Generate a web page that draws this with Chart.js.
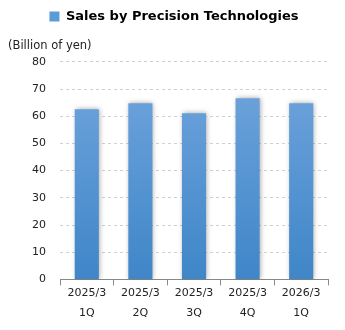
<!DOCTYPE html>
<html><head><meta charset="utf-8">
<script src="https://cdn.jsdelivr.net/npm/chart.js@4/dist/chart.umd.min.js"></script>
<style>html,body{margin:0;padding:0;background:#fff}#w{width:345px;height:330px}</style>
</head><body><div id="w"><canvas id="c"></canvas></div>
<script>
const categories = [['2025/3','1Q'],['2025/3','2Q'],['2025/3','3Q'],['2025/3','4Q'],['2026/3','1Q']];
const sales = [62.6, 64.8, 61.1, 66.6, 64.8];
const seriesName = 'Sales by Precision Technologies';
const unitLabel = '(Billion of yen)';
const yMax = 80, yStep = 10;
const FONT = "'DejaVu Sans', Verdana, sans-serif";

function grad(ctx){
  const ca = ctx.chart.chartArea;
  if(!ca) return '#5a98d8';
  const g = ctx.chart.ctx.createLinearGradient(0, ca.top, 0, ca.bottom);
  g.addColorStop(0, '#72a6de');
  g.addColorStop(1, '#3f86c8');
  return g;
}
const shadow = {
  id:'shadow',
  afterLayout(chart){ if(chart.legend){chart.legend.left += 6; chart.legend.right += 6;} },
  beforeDatasetsDraw(chart){const c=chart.ctx;c.save();c.shadowColor='rgba(0,0,0,0.35)';c.shadowBlur=5;c.shadowOffsetX=1;c.shadowOffsetY=0;},
  afterDatasetsDraw(chart){chart.ctx.restore();}
};
new Chart(document.getElementById('c'), {
  type:'bar',
  data:{labels:categories, datasets:[{label:seriesName, data:sales, backgroundColor:grad, barPercentage:0.9, categoryPercentage:0.5}]},
  options:{
    responsive:true, maintainAspectRatio:false, animation:false,
    layout:{padding:{left:8,right:17,top:4,bottom:9}},
    plugins:{
      legend:{display:true, position:'top', weight:3000,
        labels:{boxWidth:10, boxHeight:10, color:'#111', font:{family:FONT, size:13, weight:'bold'}, padding:6,
          generateLabels(){return [{text:seriesName, fillStyle:'#5b9bd9', strokeStyle:'#5b9bd9', lineWidth:0, datasetIndex:0}];}}},
      title:{display:true, text:unitLabel, align:'start', color:'#222', font:{family:FONT, size:11.5, weight:'normal'}, padding:{top:6,bottom:9}},
      tooltip:{enabled:false}
    },
    scales:{
      x:{grid:{display:true, drawOnChartArea:false, tickLength:6, color:'#888'}, border:{color:'#888'},
         ticks:{color:'#222', font:{family:FONT, size:11, lineHeight:1.8}, padding:-2, maxRotation:0}},
      y:{min:0, max:yMax, ticks:{stepSize:yStep, color:'#222', font:{family:FONT, size:11}, padding:14},
         afterFit(s){s.width=52;},
         grid:{color:'#d0d0d0', drawTicks:false}, border:{display:false, dash:[3,3]}}
    }
  },
  plugins:[shadow]
});
</script></body></html>
